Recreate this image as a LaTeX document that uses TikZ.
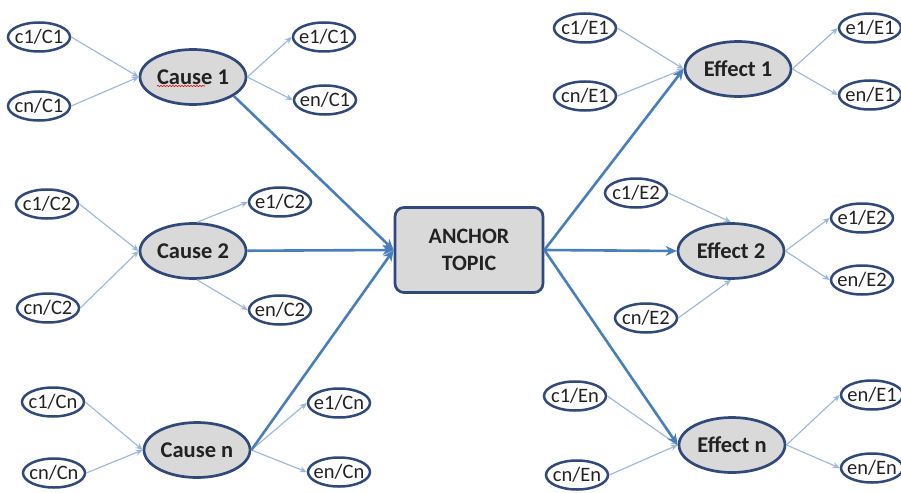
\documentclass[tikz,border=0pt]{standalone}
\usepackage{fontspec}
\setmainfont{Carlito}
\usetikzlibrary{shapes.geometric,arrows.meta,decorations.pathmorphing,calc}
\definecolor{navy}{HTML}{30497A}
\definecolor{mainblue}{HTML}{4A7EBB}
\definecolor{lightblue}{HTML}{9AB7DB}
\definecolor{boxgray}{HTML}{D9D9D9}
\definecolor{txt}{HTML}{222222}
\tikzset{
  small/.style={ellipse,draw=navy,line width=2.5pt,fill=white,inner sep=-6pt,
    minimum width=62pt,minimum height=29pt,font=\fontsize{20.5}{20.5}\selectfont,text=txt},
  big/.style={ellipse,draw=navy,line width=2.7pt,fill=boxgray,inner sep=-6pt,
    minimum width=106pt,minimum height=55pt,font=\fontsize{22.5}{22.5}\selectfont\bfseries,text=txt},
  anchorbox/.style={rectangle,rounded corners=9pt,draw=navy,line width=2.7pt,fill=boxgray,
    minimum width=148pt,minimum height=85pt,align=center,inner sep=0pt,
    font=\fontsize{22}{27}\selectfont\bfseries,text=txt},
  thinarr/.style={draw=lightblue,line width=1.1pt,-{Stealth[length=7pt,width=6pt]}},
  thickarr/.style={draw=mainblue,line width=2.6pt,-{Stealth[length=11pt,width=10pt]}}
}
\begin{document}
\begin{tikzpicture}[x=1pt,y=-1pt]
\useasboundingbox[fill=white] (0,0) rectangle (901,492);
% anchor
\node[anchorbox] (A) at (469,250) {ANCHOR\\TOPIC};
% causes
\node[big] (C1) at (193,77) {Cause 1};
\node[big] (C2) at (193,251) {Cause 2};
\node[big] (Cn) at (197,450) {Cause n};
% effects
\node[big] (E1) at (738,69) {Effect 1};
\node[big] (E2) at (731,251) {Effect 2};
\node[big] (En) at (732,445) {Effect n};
% small nodes, cause 1
\node[small] (c1C1) at (39,37) {c1/C1};
\node[small] (cnC1) at (39,106) {cn/C1};
\node[small] (e1C1) at (324,37) {e1/C1};
\node[small] (enC1) at (325,100) {en/C1};
% cause 2
\node[small] (c1C2) at (47,204) {c1/C2};
\node[small] (cnC2) at (48,308) {cn/C2};
\node[small] (e1C2) at (280,202) {e1/C2};
\node[small] (enC2) at (280,310) {en/C2};
% cause n
\node[small] (c1Cn) at (53,402) {c1/Cn};
\node[small] (cnCn) at (54,473) {cn/Cn};
\node[small] (e1Cn) at (339,403) {e1/Cn};
\node[small] (enCn) at (339,472) {en/Cn};
% effect 1
\node[small] (c1E1) at (585,28) {c1/E1};
\node[small] (cnE1) at (585,96) {cn/E1};
\node[small] (e1E1) at (870,28) {e1/E1};
\node[small] (enE1) at (870,95) {en/E1};
% effect 2
\node[small] (c1E2) at (636,193) {c1/E2};
\node[small] (cnE2) at (646,318) {cn/E2};
\node[small] (e1E2) at (862,218) {e1/E2};
\node[small] (enE2) at (862,280) {en/E2};
% effect n
\node[small] (c1En) at (575,396) {c1/En};
\node[small] (cnEn) at (577,475) {cn/En};
\node[small] (enE1b) at (872,395) {en/E1};
\node[small] (enEn) at (872,468) {en/En};
% spell-check underline
\draw[red!85!black,line width=0.6pt,decorate,decoration={snake,amplitude=0.6pt,segment length=3pt}]
  ($(C1.center)+(-36,9)$) -- ($(C1.center)+(12,9)$);
% thin arrows
\draw[thinarr] (c1C1.east) -- (C1.west);
\draw[thinarr] (cnC1.east) -- (C1.west);
\draw[thinarr] (C1.east) -- (e1C1.west);
\draw[thinarr] (C1.east) -- (enC1.west);
\draw[thinarr] (c1C2.east) -- (C2.west);
\draw[thinarr] (cnC2.east) -- (C2.west);
\draw[thinarr] ($(C2.north)+(4,0)$) -- (e1C2.west);
\draw[thinarr] ($(C2.south)+(4,0)$) -- (enC2.west);
\draw[thinarr] (c1Cn.east) -- (Cn.west);
\draw[thinarr] (cnCn.east) -- (Cn.west);
\draw[thinarr] (Cn.east) -- (e1Cn.west);
\draw[thinarr] (Cn.east) -- (enCn.west);
\draw[thinarr] (c1E1.east) -- (E1.west);
\draw[thinarr] (cnE1.east) -- (E1.west);
\draw[thinarr] (E1.east) -- (e1E1.west);
\draw[thinarr] (E1.east) -- (enE1.west);
\draw[thinarr] (c1E2.east) -- (E2.north);
\draw[thinarr] (cnE2.east) -- (E2.south);
\draw[thinarr] (E2.east) -- (e1E2.west);
\draw[thinarr] (E2.east) -- (enE2.west);
\draw[thinarr] (c1En.east) -- (En.west);
\draw[thinarr] (cnEn.east) -- (En.west);
\draw[thinarr] (En.east) -- (enE1b.west);
\draw[thinarr] (En.east) -- (enEn.west);
% thick arrows
\draw[thickarr] (C1.-25) -- (A.west);
\draw[thickarr] (C2) -- (A.west);
\draw[thickarr] (Cn.east) -- (A.west);
\draw[thickarr] (A.east) -- (E1.west);
\draw[thickarr] (A.east) -- (E2.west);
\draw[thickarr] (A.east) -- (En.west);
\end{tikzpicture}
\end{document}
